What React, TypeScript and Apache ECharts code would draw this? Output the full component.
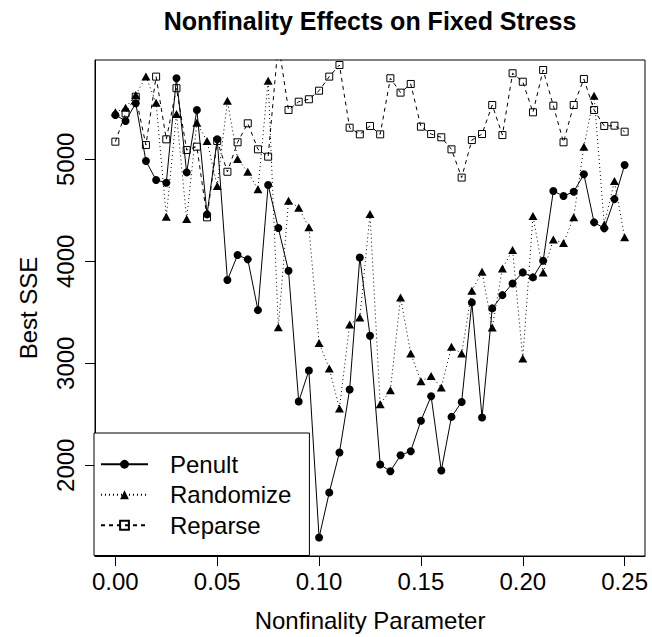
import React, { useEffect, useRef } from "react";
import * as echarts from "echarts";

const nonfinality = [
  0.0, 0.005, 0.01, 0.015, 0.02, 0.025, 0.03, 0.035, 0.04, 0.045,
  0.05, 0.055, 0.06, 0.065, 0.07, 0.075, 0.08, 0.085, 0.09, 0.095,
  0.1, 0.105, 0.11, 0.115, 0.12, 0.125, 0.13, 0.135, 0.14, 0.145,
  0.15, 0.155, 0.16, 0.165, 0.17, 0.175, 0.18, 0.185, 0.19, 0.195,
  0.2, 0.205, 0.21, 0.215, 0.22, 0.225, 0.23, 0.235, 0.24, 0.245,
  0.25,
];

const penult = [
  5435, 5376, 5550, 4983, 4797, 4770, 5795, 4872, 5484, 4460,
  5196, 3816, 4061, 4019, 3521, 4748, 4326, 3907, 2625, 2929,
  1291, 1732, 2125, 2743, 4038, 3269, 2007, 1941, 2098, 2138,
  2437, 2677, 1948, 2474, 2621, 3597, 2468, 3538, 3668, 3783,
  3891, 3842, 4005, 4689, 4640, 4682, 4853, 4382, 4323, 4610,
  4944,
];

const randomize = [
  5461, 5506, 5631, 5811, 5555, 4437, 5445, 4414, 5359, 5180,
  4738, 5575, 5003, 4878, 4706, 5771, 3354, 4594, 4525, 4333,
  3200, 2949, 2557, 3381, 3450, 4463, 2599, 2736, 3646, 3096,
  2824, 2876, 2763, 3161, 3096, 3711, 3897, 3351, 3930, 4110,
  3047, 4444, 3891, 4213, 4179, 4431, 5124, 5624, 4360, 4787,
  4235,
];

const reparse = [
  5173, 5451, 5614, 5140, 5811, 5196, 5697, 5091, 5124, 4431,
  5180, 4878, 5167, 5353, 5098, 5026, 6141, 5484, 5565, 5589,
  5673, 5811, 5925, 5310, 5245, 5327, 5245, 5795, 5654, 5739,
  5320, 5248, 5216, 5098, 4821, 5189, 5248, 5533, 5238, 5844,
  5761, 5461, 5876, 5526, 5167, 5533, 5788, 5484, 5327, 5330,
  5271,
];

const xTicks = [0, 0.05, 0.1, 0.15, 0.2, 0.25];
const yTicks = [2000, 3000, 4000, 5000];

const titleText = "Nonfinality Effects on Fixed Stress";
const xTitle = "Nonfinality Parameter";
const yTitle = "Best SSE";

const FONT = '"Liberation Sans", Arial, Helvetica, sans-serif';

export default function App() {
  const ref = useRef<HTMLDivElement>(null);

  useEffect(() => {
    document.body.style.margin = "0";
    const chart = echarts.init(ref.current as HTMLDivElement, null, {
      renderer: "svg",
    });
    const pairs = (ys: number[]) => ys.map((y, i) => [nonfinality[i], y]);

    chart.setOption({
      animation: false,
      backgroundColor: "#fff",
      textStyle: { fontFamily: FONT },
      graphic: [
        {
          type: "text",
          x: 370,
          y: 21,
          style: {
            text: titleText,
            font: `bold 25px ${FONT}`,
            fill: "#000",
            textAlign: "center",
            textVerticalAlign: "middle",
          },
        },
      ],
      grid: {
        left: 95,
        right: 7,
        top: 60,
        bottom: 81,
        show: true,
        borderColor: "#000",
        borderWidth: 1,
        backgroundColor: "transparent",
        containLabel: false,
      },
      legend: {
        orient: "vertical",
        left: 94,
        top: 433,
        padding: [16, 18, 15, 6],
        itemGap: 0,
        itemWidth: 47,
        itemHeight: 11,
        borderColor: "#000",
        borderWidth: 1,
        borderRadius: 0,
        backgroundColor: "#fff",
        data: ["Penult", "Randomize", "Reparse"],
        textStyle: {
          fontFamily: FONT,
          fontSize: 24,
          color: "#000",
          lineHeight: 30.5,
          padding: [0, 0, 0, 17],
        },
      },
      xAxis: {
        type: "value",
        min: -0.01,
        max: 0.26,
        name: xTitle,
        nameLocation: "middle",
        nameGap: 52,
        nameTextStyle: { fontFamily: FONT, fontSize: 24, color: "#000" },
        axisLine: {
          show: true,
          onZero: false,
          lineStyle: { color: "#000", width: 1 },
        },
        axisTick: {
          show: true,
          customValues: xTicks,
          length: 10,
          lineStyle: { color: "#000", width: 1 },
        },
        axisLabel: {
          customValues: xTicks,
          formatter: (v: number) => v.toFixed(2),
          margin: 13,
          fontFamily: FONT,
          fontSize: 24,
          color: "#000",
        },
        splitLine: { show: false },
      },
      yAxis: {
        type: "value",
        min: 1110,
        max: 5974,
        name: yTitle,
        nameLocation: "middle",
        nameGap: 55,
        nameTextStyle: { fontFamily: FONT, fontSize: 24, color: "#000" },
        axisLine: {
          show: true,
          onZero: false,
          lineStyle: { color: "#000", width: 1 },
        },
        axisTick: {
          show: true,
          customValues: yTicks,
          length: 10,
          lineStyle: { color: "#000", width: 1 },
        },
        axisLabel: {
          customValues: yTicks,
          formatter: (v: number) => String(v),
          rotate: 90,
          margin: 18,
          fontFamily: FONT,
          fontSize: 24,
          color: "#000",
        },
        splitLine: { show: false },
      },
      series: [
        {
          name: "Penult",
          type: "line",
          data: pairs(penult),
          symbol: "circle",
          symbolSize: 8,
          showAllSymbol: true,
          clip: true,
          itemStyle: { color: "#000" },
          lineStyle: { color: "#000", width: 1, type: "solid" },
          emphasis: { disabled: true },
        },
        {
          name: "Randomize",
          type: "line",
          data: pairs(randomize),
          symbol: "triangle",
          symbolSize: [9, 8],
          showAllSymbol: true,
          clip: true,
          itemStyle: { color: "#000" },
          lineStyle: { color: "#000", width: 1, type: [1, 3] },
          emphasis: { disabled: true },
        },
        {
          name: "Reparse",
          type: "line",
          data: pairs(reparse),
          symbol: "rect",
          symbolSize: 7,
          showAllSymbol: true,
          clip: true,
          itemStyle: {
            color: "rgba(0,0,0,0)",
            borderColor: "#000",
            borderWidth: 1,
          },
          lineStyle: { color: "#000", width: 1, type: [4, 4] },
          emphasis: { disabled: true },
        },
      ],
    });

    return () => chart.dispose();
  }, []);

  return <div ref={ref} style={{ width: 652, height: 637 }} />;
}
